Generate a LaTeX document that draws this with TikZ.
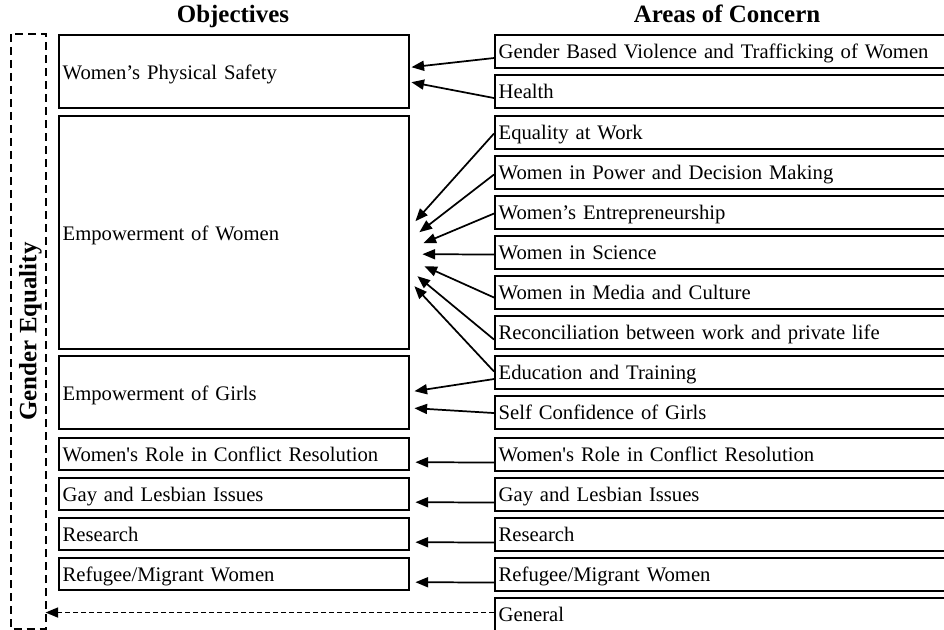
\documentclass[tikz,border=0pt]{standalone}
\usepackage{fontspec}
\setmainfont{Liberation Serif}
\usetikzlibrary{arrows.meta,calc}

\begin{document}
\begin{tikzpicture}[x=0.75pt,y=0.75pt,yscale=-1,xscale=1,
  box/.style={draw,line width=1.8pt,anchor=north west,align=left,inner xsep=2.6pt,inner ysep=1pt,
    text height=14.5pt,text depth=3.5pt,font=\fontsize{15.5}{18}\selectfont},
  objbox/.style={box,text width=257.3pt},
  areabox/.style={box,text width=370pt,minimum height=24.5pt},
  head/.style={anchor=base,font=\bfseries\fontsize{18.7}{22}\selectfont},
  link/.style={line width=1.3pt,-{Triangle[length=9.5pt,width=7.5pt]}}
]
\useasboundingbox (0,0) rectangle (944,630);

% column titles
\node (objectives) [head] at (233,23) {Objectives};
\node (concerns) [head] at (727,23) {Areas of Concern};

% dashed frame round all objectives
\node (gender) [draw,rotate=90,line width=1.5pt,dash pattern=on 6pt off 3.75pt,
  minimum width=446.25pt,minimum height=26.25pt,text height=12.5pt,text depth=0pt,
  font=\bfseries\fontsize{18.7}{22}\selectfont] at (28,331.5) {Gender Equality};

% objectives
\node (safety) [objbox,minimum height=54.75pt] at (58,34) {Women’s Physical Safety};
\node (women) [objbox,minimum height=174.75pt] at (58,115) {Empowerment of Women};
\node (girls) [objbox,minimum height=54.75pt] at (58,355) {Empowerment of Girls};
\node (conflictobj) [objbox,minimum height=24pt] at (58,437) {Women\textquotesingle s Role in Conflict Resolution};
\node (gayobj) [objbox,minimum height=24pt] at (58,477) {Gay and Lesbian Issues};
\node (researchobj) [objbox,minimum height=24pt] at (58,517) {Research};
\node (refugeeobj) [objbox,minimum height=24pt] at (58,557) {Refugee/Migrant Women};

% areas of concern
\node (gbv) [areabox] at (494,34) {Gender Based Violence and Trafficking of Women};
\node (health) [areabox] at (494,74) {Health};
\node (equality) [areabox] at (494,115) {Equality at Work};
\node (power) [areabox] at (494,155) {Women in Power and Decision Making};
\node (entre) [areabox] at (494,195) {Women’s Entrepreneurship};
\node (science) [areabox] at (494,235) {Women in Science};
\node (media) [areabox] at (494,275) {Women in Media and Culture};
\node (reconc) [areabox] at (494,315) {Reconciliation between work and private life};
\node (education) [areabox] at (494,355) {Education and Training};
\node (selfconf) [areabox] at (494,395) {Self Confidence of Girls};
\node (conflict) [areabox] at (494,437) {Women\textquotesingle s Role in Conflict Resolution};
\node (gay) [areabox] at (494,477) {Gay and Lesbian Issues};
\node (research) [areabox] at (494,517) {Research};
\node (refugee) [areabox] at (494,557) {Refugee/Migrant Women};
\node (general) [areabox] at (494,597) {General};

% links
\draw[link] ($(gbv.west)+(0,6.5)$) -- ($(safety.east)+(1,-4.5)$);
\draw[link] ($(health.west)+(0,6.5)$) -- ($(safety.east)+(1,10.5)$);
\draw[link] ($(equality.west)+(0,1)$) -- ($(women.east)+(5,-11.5)$);
\draw[link] ($(power.west)+(0,2)$) -- ($(women.east)+(9,-0.5)$);
\draw[link] ($(entre.west)+(0,1)$) -- ($(women.east)+(13,10.5)$);
\draw[link] ($(science.west)+(0,2)$) -- ($(women.east)+(12,21.5)$);
\draw[link] ($(media.west)+(0,5)$) -- ($(women.east)+(14,33.5)$);
\draw[link] ($(reconc.west)+(0,7)$) -- ($(women.east)+(7,43.5)$);
\draw[link] ($(education.west)+(0,-1)$) -- ($(women.east)+(4,53.5)$);
\draw[link] ($(education.west)+(0,6.5)$) -- ($(girls.east)+(4,-1.5)$);
\draw[link] ($(selfconf.west)+(0,0.5)$) -- ($(girls.east)+(4,15.5)$);
\foreach \a/\o in {conflict/conflictobj,gay/gayobj,research/researchobj,refugee/refugeeobj}
  \draw[link] ($(\a.west)+(0,8)$) -- ($(\o.east)+(5,8)$);
\draw[link,dash pattern=on 3.75pt off 2.25pt] ($(general.west)+(0,-2)$) -- ($(general.west -| gender.center)+(17.5,-2)$);
\end{tikzpicture}
\end{document}
